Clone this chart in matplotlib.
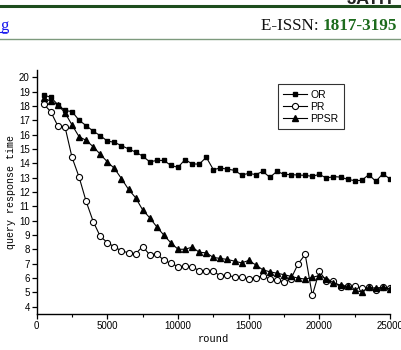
import numpy as np
import matplotlib
matplotlib.use('Agg')
import matplotlib.pyplot as plt
from matplotlib.ticker import MultipleLocator

# rounds: every 500 from 500 to 25000
rounds = np.arange(500, 25001, 500)

or_time = [18.75, 18.6, 18.08, 17.68, 17.6, 17.0, 16.62, 16.24, 15.92, 15.55,
           15.46, 15.23, 15.0, 14.78, 14.5, 14.1, 14.2, 14.2, 13.85, 13.72,
           14.26, 13.96, 13.94, 14.42, 13.56, 13.67, 13.59, 13.51, 13.18, 13.3,
           13.21, 13.44, 13.02, 13.44, 13.23, 13.21, 13.18, 13.16, 13.09, 13.23,
           12.97, 13.07, 13.04, 12.88, 12.79, 12.81, 13.21, 12.74, 13.28, 12.9]

pr_time = [18.12, 17.59, 16.59, 16.55, 14.41, 13.04, 11.34, 9.94, 8.9, 8.48,
           8.17, 7.9, 7.76, 7.7, 8.2, 7.62, 7.7, 7.23, 7.04, 6.8,
           6.83, 6.78, 6.53, 6.5, 6.48, 6.15, 6.23, 6.05, 6.05, 5.95,
           6.02, 6.16, 5.93, 5.84, 5.74, 5.97, 7.0, 7.65, 4.79, 6.48,
           5.79, 5.79, 5.35, 5.42, 5.42, 5.28, 5.35, 5.14, 5.35, 5.28]

ppsr_time = [18.55, 18.32, 18.07, 17.52, 16.67, 15.85, 15.6, 15.15, 14.63, 14.1,
             13.64, 12.93, 12.18, 11.6, 10.75, 10.2, 9.57, 8.99, 8.45, 8.01,
             8.01, 8.16, 7.8, 7.76, 7.44, 7.37, 7.3, 7.18, 7.06, 7.23,
             6.92, 6.58, 6.44, 6.34, 6.24, 6.12, 6.0, 5.93, 6.05, 6.18,
             5.95, 5.67, 5.51, 5.42, 5.14, 5.04, 5.35, 5.3, 5.37, 5.25]

fig = plt.figure(figsize=(4.02, 3.5), dpi=100)

# page header bits (cropped from a journal page)
fig.add_artist(plt.Line2D([0, 1], [1 - 6 / 350, 1 - 6 / 350], color='#1e4d1e', lw=2.2))
fig.add_artist(plt.Line2D([0, 1], [1 - 38.5 / 350, 1 - 38.5 / 350], color='#7d9a7d', lw=1.0))
fig.text(0.985, 1 - 4 / 350, 'JATIT', ha='right', va='baseline', fontsize=13,
         fontweight='bold', family='Liberation Sans', color='#222222')
fig.text(0.0, 1 - 30 / 350, 'g', ha='left', va='baseline', fontsize=12,
         family='Liberation Serif', color='#1a1aee')
fig.add_artist(plt.Line2D([0, 6 / 402], [1 - 32 / 350, 1 - 32 / 350], color='#1a1aee', lw=0.8))
t = fig.text(0.649, 1 - 30 / 350, 'E-ISSN: ', ha='left', va='baseline', fontsize=12.3,
             family='Liberation Serif', color='#111111')
fig.canvas.draw()
bb = t.get_window_extent()
fig.text(bb.x1 / fig.bbox.width, 1 - 30 / 350, '1817-3195', ha='left', va='baseline',
         fontsize=12.3, family='Liberation Serif', fontweight='bold', color='#1d6b1d')

ax = fig.add_axes([36.7 / 402, 1 - 314 / 350, (390 - 36.7) / 402, (314 - 70) / 350])

ax.plot(rounds, or_time, color='black', lw=0.8, marker='s', ms=3.5,
        mfc='black', mec='black', label='OR')
ax.plot(rounds, pr_time, color='black', lw=0.8, marker='o', ms=4.4,
        mfc='white', mec='black', mew=0.8, label='PR')
ax.plot(rounds, ppsr_time, color='black', lw=0.8, marker='^', ms=4.4,
        mfc='black', mec='black', label='PPSR')

ax.set_xlim(0, 25000)
ax.set_ylim(3.5, 20.5)
ax.xaxis.set_major_locator(MultipleLocator(5000))
ax.xaxis.set_minor_locator(MultipleLocator(2500))
ax.set_yticks(range(4, 21))

for s in ['top', 'right']:
    ax.spines[s].set_visible(False)
for s in ['left', 'bottom']:
    ax.spines[s].set_linewidth(1.0)
ax.tick_params(axis='both', which='major', direction='out', length=3.5, width=0.9,
               labelsize=7, pad=1.5)
ax.tick_params(axis='x', which='minor', direction='out', length=2, width=0.8)
for lab in ax.get_xticklabels() + ax.get_yticklabels():
    lab.set_family('Liberation Sans')

ax.set_xlabel('round', family='Liberation Mono', fontsize=7.5, labelpad=2)
ax.set_ylabel('query response time', family='Liberation Mono', fontsize=7.2, labelpad=2)

leg = ax.legend(loc='upper left', bbox_to_anchor=(0.668, 0.962),
                frameon=True, fancybox=False, edgecolor='black', borderpad=0.5,
                handlelength=2.3, labelspacing=0.2, handletextpad=0.3,
                prop={'family': 'Liberation Sans', 'size': 7.5})
leg.get_frame().set_linewidth(0.8)

fig.savefig('out.png', dpi=100)
